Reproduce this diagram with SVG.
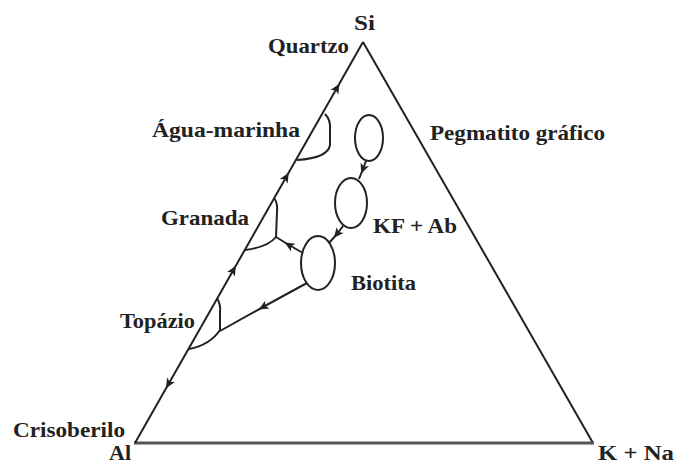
<svg xmlns="http://www.w3.org/2000/svg" width="676" height="465" viewBox="0 0 676 465">
<style>
.t{font-family:"Liberation Serif","Times New Roman",serif;font-weight:bold;font-size:21px;fill:#222}
.ln{fill:none;stroke:#222;stroke-width:2}
.ar{marker-mid:url(#ah)}
.el{fill:none;stroke:#222;stroke-width:2}
</style>
<defs>
<marker id="ah" markerUnits="userSpaceOnUse" markerWidth="14" markerHeight="12" viewBox="-7 -6 14 12" refX="0" refY="0" orient="auto">
<path d="M-5,-4.5 L5,0 L-5,4.5 L-2.5,0 z" fill="#222"/>
</marker>
</defs>
<g id="triangle">
<path class="ln" d="M363,42 L593,443"/>
<path d="M134,443 L594,443" fill="none" stroke="#555" stroke-width="3"/>
</g>
<g id="connectors">
<path class="ln ar" d="M201,327 L233.4,270 L286.2,177 L336.9,88 L363,42"/>
<path class="ln ar" d="M201,327 L168.5,384 L135,443"/>
<path class="ln" d="M325,114 Q331,120 330,130 L330,145 Q328,158 297,160"/>
<path class="ln" d="M274,198 Q278,203 277,212 L276,237 Q268,247 245,250"/>
<path class="ln" d="M217,298 Q221,305 220,312 L220,330 Q210,345 189,349"/>
<path class="ln ar" d="M303,253 L289,245 L276,237"/>
<path class="ln ar" d="M307,283 L263,307 L220,331"/>
<path class="ln ar" d="M366,161 L363,169 L359,179"/>
<path class="ln ar" d="M343,226 L337,234 L329,243"/>
</g>
<g id="n-quartzo-ellipse"><ellipse class="el" cx="369" cy="138" rx="14" ry="23"/></g>
<g id="n-kfab-ellipse"><ellipse class="el" cx="351" cy="203" rx="16" ry="25"/></g>
<g id="n-biotita-ellipse"><ellipse class="el" cx="318" cy="263" rx="17" ry="27"/></g>
<g id="labels">
<text class="t" x="354" y="30" textLength="21" lengthAdjust="spacingAndGlyphs">Si</text>
<text class="t" x="268" y="53" textLength="81" lengthAdjust="spacingAndGlyphs">Quartzo</text>
<text class="t" x="152" y="137" textLength="148" lengthAdjust="spacingAndGlyphs">Água-marinha</text>
<text class="t" x="430" y="140" textLength="175" lengthAdjust="spacingAndGlyphs">Pegmatito gráfico</text>
<text class="t" x="161" y="225" textLength="88" lengthAdjust="spacingAndGlyphs">Granada</text>
<text class="t" x="373" y="233" textLength="84" lengthAdjust="spacingAndGlyphs">KF + Ab</text>
<text class="t" x="351" y="290" textLength="65" lengthAdjust="spacingAndGlyphs">Biotita</text>
<text class="t" x="120" y="328" textLength="75" lengthAdjust="spacingAndGlyphs">Topázio</text>
<text class="t" x="13" y="437" textLength="112" lengthAdjust="spacingAndGlyphs">Crisoberilo</text>
<text class="t" x="109" y="460" textLength="22" lengthAdjust="spacingAndGlyphs">Al</text>
<text class="t" x="598" y="460" textLength="76" lengthAdjust="spacingAndGlyphs">K + Na</text>
</g>
</svg>
